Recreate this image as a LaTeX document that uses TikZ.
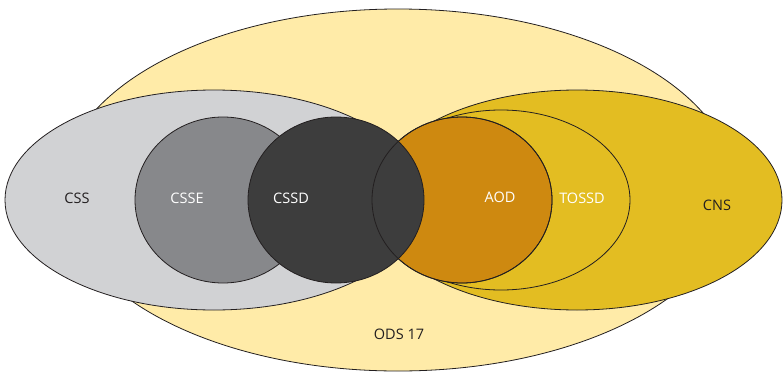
\documentclass[tikz,border=0pt]{standalone}
\usepackage{fontspec}
\setmainfont{Open Sans}
\usetikzlibrary{positioning}
\definecolor{odsyellow}{RGB}{255,235,168}
\definecolor{cssgrey}{RGB}{209,210,212}
\definecolor{cssegrey}{RGB}{135,136,139}
\definecolor{cssddark}{RGB}{61,61,61}
\definecolor{cnsyellow}{RGB}{227,189,34}
\definecolor{aodorange}{RGB}{206,137,16}
\definecolor{inkblack}{RGB}{35,31,32}

\begin{document}
\begin{tikzpicture}[x=1pt, y=-1pt,
    every node/.style={font=\fontsize{14.5}{17}\selectfont, inner sep=0pt},
    setline/.style={draw=inkblack, line width=0.8pt}]
  \useasboundingbox (0,0) rectangle (783,372);
  \path[setline, fill=odsyellow] (398,190) ellipse [x radius=337, y radius=181];
  \path[setline, fill=cnsyellow] (577,200) ellipse [x radius=205, y radius=110];
  \path[setline, fill=cnsyellow] (501,200) ellipse [x radius=129, y radius=90];
  \path[setline, fill=aodorange] (462,200) ellipse [x radius=90, y radius=83];
  \path[setline, fill=cssgrey] (214,200) ellipse [x radius=209, y radius=110];
  \path[setline, fill=cssegrey] (223,200) ellipse [x radius=88, y radius=83];
  \path[setline, fill=cssddark] (336,200) ellipse [x radius=88, y radius=83];
  \path[setline] (462,200) ellipse [x radius=90, y radius=83];
  \node[text=inkblack] (css) at (77,198) {CSS};
  \node[text=white] (csse) at (187,198) {CSSE};
  \node[text=white] (cssd) at (291,198) {CSSD};
  \node[text=white] (aod) at (500,197) {AOD};
  \node[text=white] (tossd) at (582,198) {TOSSD};
  \node[text=inkblack] (cns) at (717,205) {CNS};
  \node[text=inkblack] (ods) at (399,334) {ODS 17};
\end{tikzpicture}
\end{document}
